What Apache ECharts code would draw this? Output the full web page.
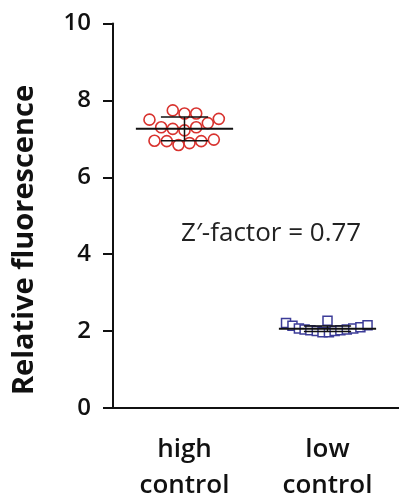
<!DOCTYPE html>
<html>
<head>
<meta charset="utf-8">
<script src="https://cdn.jsdelivr.net/npm/echarts@6/dist/echarts.min.js"></script>
<style>
  html, body { margin: 0; padding: 0; background: #fff; }
  #chart { width: 399px; height: 497px; }
</style>
</head>
<body>
<div id="chart"></div>
<script>
var chartDom = document.getElementById('chart');
var chart = echarts.init(chartDom, null, { renderer: 'canvas' });

// Categories and tick labels
var categories = ['high\ncontrol', 'low\ncontrol'];
var yTicks = [0, 2, 4, 6, 8, 10];

// High control (red circles): horizontal jitter and values
var highX = [-0.245, -0.082, 0, 0.082, 0.163, 0.240, -0.163, -0.082, 0, 0.082, -0.210, -0.124, -0.042, 0.035, 0.117, 0.205];
var highY = [7.50, 7.74, 7.66, 7.66, 7.41, 7.52, 7.30, 7.26, 7.22, 7.30, 6.95, 6.94, 6.84, 6.89, 6.94, 6.98];

// Low control (blue squares)
var lowX = [-0.29, -0.245, -0.20, -0.16, -0.12, -0.075, -0.035, 0, 0.01, 0.05, 0.09, 0.135, 0.18, 0.23, 0.28];
var lowY = [2.21, 2.14, 2.07, 2.04, 2.02, 2.00, 1.97, 2.27, 1.97, 2.00, 2.02, 2.04, 2.07, 2.10, 2.15];

// Mean and SD for each group
var means = [7.26, 2.06];
var sds = [0.31, 0.07];

var font = '"Open Sans", sans-serif';

function pts(xs, ys, offset) {
    return xs.map(function (x, i) { return [offset + x, ys[i]]; });
}

var option = {
    animation: false,
    grid: { left: 113, right: 0, top: 23.5, bottom: 89, outerBoundsMode: 'none' },
    xAxis: [{
        type: 'category',
        data: categories,
        boundaryGap: true,
        axisLine: { lineStyle: { color: '#111', width: 2 } },
        axisTick: { alignWithLabel: true, length: 9, lineStyle: { color: '#111', width: 2 } },
        axisLabel: { fontSize: 26, fontWeight: 600, lineHeight: 36, color: '#111', margin: 24, fontFamily: font }
    }, {
        type: 'value', min: -0.5, max: 1.5, show: false
    }],
    yAxis: {
        type: 'value',
        min: 0, max: 10, interval: 2,
        axisLine: { show: true, onZero: false, lineStyle: { color: '#111', width: 2 } },
        axisTick: { show: true, length: 10, lineStyle: { color: '#111', width: 2 } },
        axisLabel: {
            fontSize: 24, fontWeight: 600, color: '#111', margin: 22, fontFamily: font,
            formatter: function (v) { return yTicks.indexOf(v) >= 0 ? String(v) : ''; }
        },
        splitLine: { show: false }
    },
    graphic: [{
        type: 'text',
        x: 25, y: 240,
        rotation: Math.PI / 2,
        style: {
            text: 'Relative fluorescence', fontSize: 29, fontWeight: 'bold', fontFamily: font,
            fill: '#111', align: 'center', verticalAlign: 'middle'
        }
    }, {
        type: 'text',
        left: 181, top: 221,
        style: { text: 'Z\u2032-factor = 0.77', fontSize: 26, fontFamily: font, fill: '#222' }
    }],
    series: [{
        type: 'scatter',
        xAxisIndex: 1,
        symbol: 'circle',
        symbolSize: 11,
        itemStyle: { color: '#fff', borderColor: '#d8322e', borderWidth: 1.6, opacity: 1 },
        data: pts(highX, highY, 0)
    }, {
        type: 'scatter',
        xAxisIndex: 1,
        symbol: 'rect',
        symbolSize: 9,
        itemStyle: { color: '#fff', borderColor: '#3c3c98', borderWidth: 1.5, opacity: 1 },
        data: pts(lowX, lowY, 1)
    }, {
        type: 'custom',
        xAxisIndex: 1,
        z: 5,
        data: means.map(function (m, i) { return [i, m, sds[i]]; }),
        renderItem: function (params, api) {
            var cx = api.value(0), m = api.value(1), sd = api.value(2);
            var stroke = { stroke: '#111', lineWidth: 1.5 };
            var meanL = api.coord([cx - 0.34, m]), meanR = api.coord([cx + 0.34, m]);
            var top = api.coord([cx, m + sd]), bot = api.coord([cx, m - sd]);
            var capL = api.coord([cx - 0.165, m]), capR = api.coord([cx + 0.165, m]);
            return {
                type: 'group',
                children: [
                    { type: 'line', shape: { x1: meanL[0], y1: meanL[1], x2: meanR[0], y2: meanR[1] }, style: { stroke: '#111', lineWidth: 2 } },
                    { type: 'line', shape: { x1: top[0], y1: top[1], x2: bot[0], y2: bot[1] }, style: stroke },
                    { type: 'line', shape: { x1: capL[0], y1: top[1], x2: capR[0], y2: top[1] }, style: stroke },
                    { type: 'line', shape: { x1: capL[0], y1: bot[1], x2: capR[0], y2: bot[1] }, style: stroke }
                ]
            };
        }
    }]
};

chart.setOption(option);
window.addEventListener('resize', function () {
    chart.resize();
});
</script>
</body>
</html>
